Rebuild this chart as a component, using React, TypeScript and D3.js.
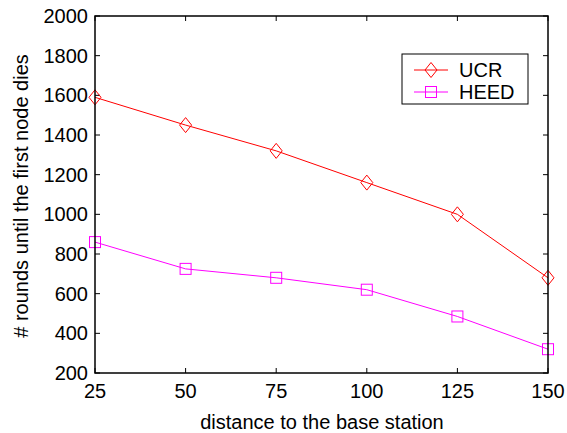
import React from "react";
import * as d3 from "d3";

const distances = [25, 50, 75, 100, 125, 150];
const ucrValues = [1590, 1450, 1320, 1160, 1000, 680];
const heedValues = [860, 725, 680, 620, 485, 320];
const yTicks = [200, 400, 600, 800, 1000, 1200, 1400, 1600, 1800, 2000];
const xTicks = [25, 50, 75, 100, 125, 150];
const seriesNames = ["UCR", "HEED"];
const seriesColors = ["#ff0000", "#ff00ff"];

const W = 567, H = 433;
const L = 95, R = 548, T = 16, B = 373;
const FONT = "'Liberation Sans', Arial, Helvetica, sans-serif";
const FS = 20;

export default function App() {
  const x = d3.scaleLinear().domain([25, 150]).range([L, R]);
  const y = d3.scaleLinear().domain([200, 2000]).range([B, T]);
  const line = d3.line<number>().x((_, i) => x(distances[i])).y((d) => y(d));
  const series = [ucrValues, heedValues];

  const diamond = (cx: number, cy: number) =>
    `M${cx},${cy - 7.5}L${cx + 6},${cy}L${cx},${cy + 7.5}L${cx - 6},${cy}Z`;
  const marker = (k: number, cx: number, cy: number, key: string) =>
    k === 0 ? (
      <path key={key} d={diamond(cx, cy)} fill="none" stroke={seriesColors[k]} strokeWidth={1} />
    ) : (
      <rect key={key} x={cx - 5.5} y={cy - 5.5} width={11} height={11} fill="none" stroke={seriesColors[k]} strokeWidth={1} />
    );

  return (
    <svg width={W} height={H} style={{ position: "absolute", left: 0, top: 0, background: "#fff" }} fontFamily={FONT}>
      <rect x={0} y={0} width={W} height={H} fill="#fff" />
      {yTicks.map((t) => (
        <g key={"y" + t}>
          <line x1={L} x2={L + 5} y1={y(t)} y2={y(t)} stroke="#000" />
          <line x1={R} x2={R - 5} y1={y(t)} y2={y(t)} stroke="#000" />
          <text x={L - 7} y={y(t) + 7} textAnchor="end" fontSize={FS}>{t}</text>
        </g>
      ))}
      {xTicks.map((t) => (
        <g key={"x" + t}>
          <line x1={x(t)} x2={x(t)} y1={B} y2={B - 5} stroke="#000" />
          <line x1={x(t)} x2={x(t)} y1={T} y2={T + 5} stroke="#000" />
          <text x={x(t)} y={398} textAnchor="middle" fontSize={FS}>{t}</text>
        </g>
      ))}
      {series.map((vals, k) => (
        <g key={"s" + k}>
          <path d={line(vals) || ""} fill="none" stroke={seriesColors[k]} strokeWidth={1} />
          {vals.map((v, i) => marker(k, x(distances[i]), y(v), `m${k}-${i}`))}
        </g>
      ))}
      <rect x={L} y={T} width={R - L} height={B - T} fill="none" stroke="#000" strokeWidth={1.5} />
      <rect x={402} y={54} width={126} height={50} fill="#fff" stroke="#000" strokeWidth={1} />
      {seriesNames.map((n, k) => {
        const ly = 70 + k * 22;
        return (
          <g key={"l" + n}>
            <line x1={414} x2={448} y1={ly} y2={ly} stroke={seriesColors[k]} strokeWidth={1} />
            {marker(k, 431, ly, "lm" + k)}
            <text x={459} y={ly + 6.5} fontSize={FS}>{n}</text>
          </g>
        );
      })}
      <text x={322} y={429} textAnchor="middle" fontSize={FS}>distance to the base station</text>
      <text transform={`translate(28,${196}) rotate(-90)`} textAnchor="middle" fontSize={FS}>
        # rounds until the first node dies
      </text>
    </svg>
  );
}
